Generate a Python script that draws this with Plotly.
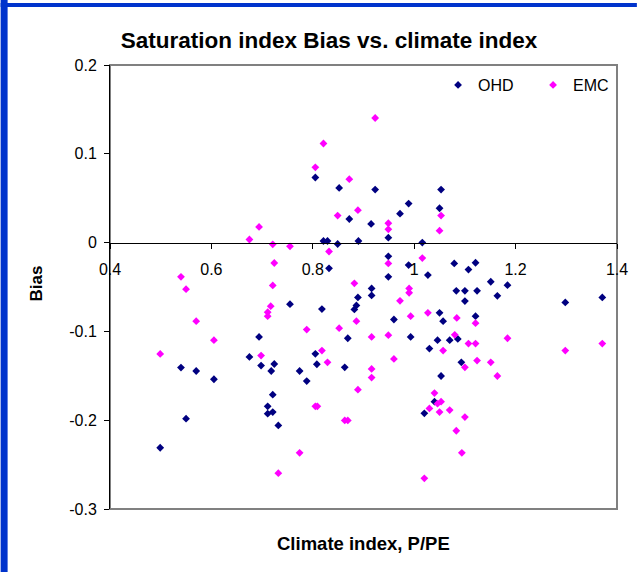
import plotly.graph_objects as go

# ---- data ----
ohd_x = [0.805, 0.852, 0.923, 0.989, 0.972, 1.053, 1.050, 0.872, 0.915, 0.949,
         0.821, 0.829, 0.849, 0.890, 1.016, 0.949, 0.989, 1.079, 1.121, 1.107,
         0.832, 0.949, 1.027, 0.755, 0.694, 0.675, 0.540, 0.570, 0.605, 0.698,
         0.724, 0.718, 0.774, 0.788, 0.805, 0.808, 0.721, 0.711, 0.711, 0.721,
         0.732, 0.550, 0.499, 0.916, 0.916, 0.889, 0.886, 0.882, 0.818, 1.151,
         1.184, 1.083, 1.100, 1.124, 1.100, 1.164, 1.298, 1.371, 0.960, 1.050,
         1.057, 1.121, 0.869, 0.993, 1.046, 1.070, 1.086, 1.030, 1.093, 0.863,
         1.053, 1.040, 1.020]
ohd_y = [0.0733, 0.0616, 0.0597, 0.0439, 0.0326, 0.0597, 0.0387, 0.0266, 0.0210, 0.0055,
         0.0018, 0.0018, -0.0016, 0.0018, 0.0000, -0.0155, -0.0253, -0.0234, -0.0227, -0.0304,
         -0.0290, -0.0385, -0.0366, -0.0693, -0.1062, -0.1288, -0.1407, -0.1446, -0.1539, -0.1385,
         -0.1367, -0.1446, -0.1446, -0.1559, -0.1252, -0.1370, -0.1712, -0.1844, -0.1927, -0.1909,
         -0.2059, -0.1983, -0.2310, -0.0516, -0.0595, -0.0617, -0.0708, -0.0753, -0.0749, -0.0441,
         -0.0479, -0.0543, -0.0543, -0.0543, -0.0659, -0.0599, -0.0674, -0.0617, -0.0866, -0.0791,
         -0.0885, -0.0828, -0.1077, -0.1062, -0.1099, -0.1099, -0.1085, -0.1193, -0.1348, -0.1404,
         -0.1502, -0.1791, -0.1923]

emc_x = [0.805, 0.923, 0.821, 0.872, 1.053, 1.050, 0.849, 0.889, 0.949, 0.949,
         0.675, 0.694, 0.721, 0.755, 0.724, 0.832, 0.949, 1.016, 0.540, 0.550,
         0.721, 0.717, 0.711, 0.711, 0.570, 0.788, 0.605, 0.499, 0.698, 0.774,
         0.732, 0.805, 0.809, 0.882, 0.990, 0.990, 0.972, 0.852, 0.886, 0.993,
         1.027, 1.084, 1.121, 0.916, 0.949, 1.080, 1.107, 1.121, 1.184, 1.298,
         1.371, 1.057, 0.818, 0.829, 0.960, 1.124, 1.151, 1.100, 0.916, 0.916,
         1.164, 0.889, 1.040, 1.046, 1.053, 1.030, 1.050, 1.070, 1.100, 0.863,
         0.869, 1.083, 1.094, 1.020]
emc_y = [0.0848, 0.1403, 0.1116, 0.0714, 0.0304, 0.0134, 0.0304, 0.0365, 0.0218, 0.0150,
         0.0035, 0.0176, -0.0019, -0.0042, -0.0230, -0.0100, -0.0234, -0.0174, -0.0385, -0.0524,
         -0.0482, -0.0716, -0.0783, -0.0828, -0.0885, -0.0979, -0.1099, -0.1254, -0.1272, -0.2367,
         -0.2597, -0.1844, -0.1844, -0.0459, -0.0516, -0.0565, -0.0656, -0.0964, -0.0885, -0.0828,
         -0.0791, -0.0848, -0.0907, -0.1062, -0.1043, -0.1039, -0.1137, -0.1137, -0.1077, -0.1216,
         -0.1137, -0.1216, -0.1216, -0.1348, -0.1310, -0.1328, -0.1348, -0.1404, -0.1423, -0.1520,
         -0.1502, -0.1656, -0.1694, -0.1814, -0.1791, -0.1867, -0.1909, -0.1886, -0.1965, -0.2002,
         -0.2002, -0.2119, -0.2367, -0.2654]

x_ticks = [0.4, 0.6, 0.8, 1.0, 1.2, 1.4]
x_tick_labels = ["0.4", "0.6", "0.8", "1", "1.2", "1.4"]
y_ticks = [0.2, 0.1, 0.0, -0.1, -0.2, -0.3]
y_tick_labels = ["0.2", "0.1", "0", "-0.1", "-0.2", "-0.3"]

title_text = "Saturation index Bias vs. climate index"
x_title = "Climate index, P/PE"
y_title = "Bias"

FONT = "Liberation Sans, Arial, sans-serif"
W, H = 640, 572
ML, MR, MT, MB = 110, 20, 65, 63
PW, PH = W - ML - MR, H - MT - MB


def px_x(p):
    return (p - ML) / PW


def px_y(p):
    return (H - MB - p) / PH


fig = go.Figure()
fig.add_trace(go.Scatter(x=ohd_x, y=ohd_y, mode="markers", name="OHD",
                         marker=dict(symbol="diamond", size=6, color="#000080")))
fig.add_trace(go.Scatter(x=emc_x, y=emc_y, mode="markers", name="EMC",
                         marker=dict(symbol="diamond", size=6, color="#FF00FF")))

fig.update_layout(
    width=W, height=H,
    margin=dict(l=ML, r=MR, t=MT, b=MB),
    paper_bgcolor="white", plot_bgcolor="white",
    font=dict(family=FONT, size=16, color="black"),
    title=dict(text="<b>" + title_text + "</b>", x=329 / W, xref="container", xanchor="center",
               y=1 - 40 / H, yref="container", yanchor="middle",
               font=dict(family=FONT, size=22.5, color="black")),
    showlegend=True,
    legend=dict(orientation="h", x=px_x(440), y=px_y(85), xanchor="left", yanchor="middle",
                bgcolor="rgba(0,0,0,0)", font=dict(size=16), entrywidth=50),
    xaxis=dict(range=[0.4, 1.4], tickvals=x_ticks, ticktext=x_tick_labels,
               anchor="free", position=0.6, showline=True, linecolor="black", linewidth=1,
               ticks="outside", ticklen=5, tickcolor="black", showgrid=False, zeroline=False,
               ticklabelstandoff=7, tickfont=dict(size=16)),
    yaxis=dict(range=[-0.3, 0.2], tickvals=y_ticks, ticktext=y_tick_labels,
               showline=True, linecolor="black", linewidth=1,
               ticks="outside", ticklen=5, tickcolor="black", showgrid=False, zeroline=False,
               ticklabelstandoff=4, tickfont=dict(size=16)),
    shapes=[
        dict(type="rect", xref="paper", yref="paper", x0=0, x1=1, y0=0, y1=1,
             line=dict(color="#808080", width=2), layer="below"),
        dict(type="rect", xref="paper", yref="paper", x0=px_x(0), x1=px_x(7),
             y0=px_y(H), y1=px_y(0), fillcolor="#0033CC", line=dict(width=0)),
        dict(type="rect", xref="paper", yref="paper", x0=px_x(0), x1=px_x(W),
             y0=px_y(7), y1=px_y(3), fillcolor="#0033CC", line=dict(width=0)),
    ],
    annotations=[
        dict(text="<b>" + x_title + "</b>", xref="paper", yref="paper",
             x=px_x(365), y=px_y(543), showarrow=False, xanchor="center", yanchor="middle",
             font=dict(family=FONT, size=18.5, color="black")),
        dict(text="<b>" + y_title + "</b>", xref="paper", yref="paper",
             x=px_x(36), y=px_y(283), showarrow=False, xanchor="center", yanchor="middle",
             textangle=-90, font=dict(family=FONT, size=17, color="black")),
    ],
)

fig.write_html("out.html", config={"displayModeBar": False},
               post_script="document.body.style.margin='0';")
